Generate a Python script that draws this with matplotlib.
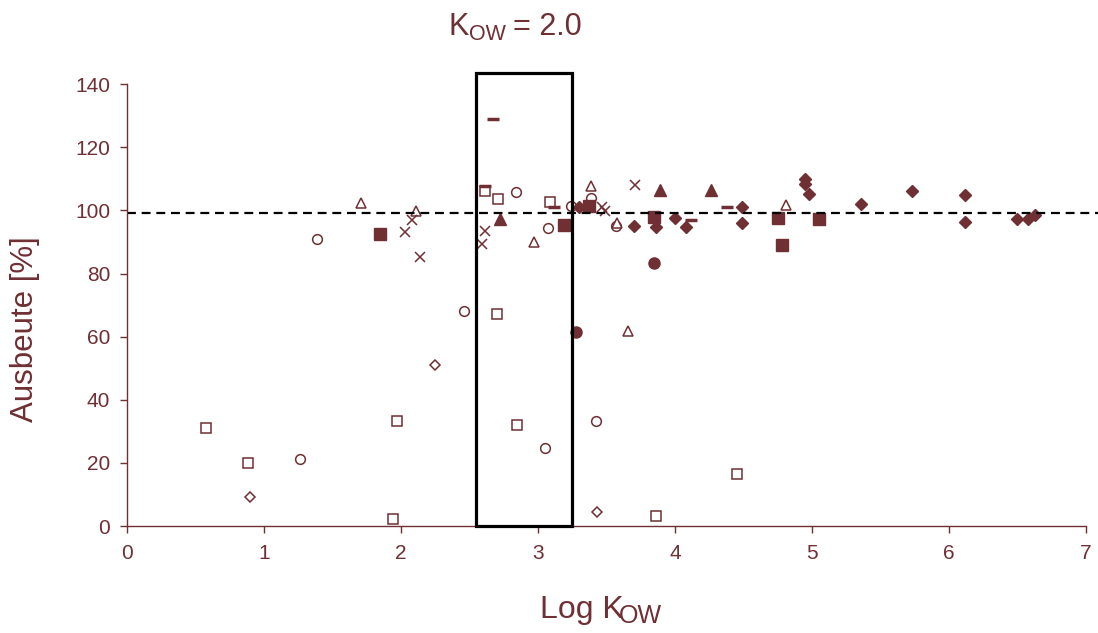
import matplotlib
matplotlib.use('Agg')
import matplotlib.pyplot as plt
from matplotlib.patches import Rectangle

plt.rcParams['font.family'] = ['Liberation Sans', 'DejaVu Sans']

col = '#6f2f33'

# open symbols
sq_open_x = [0.58, 0.88, 1.97, 1.94, 2.70, 2.85, 2.61, 2.71, 3.09, 3.86, 4.45]
sq_open_y = [31.0, 20.0, 33.3, 2.2, 67.2, 31.9, 106.2, 103.5, 102.6, 3.2, 16.6]
ci_open_x = [1.39, 1.26, 2.46, 3.05, 3.42, 2.84, 3.07, 3.24, 3.39, 3.57]
ci_open_y = [91.0, 21.1, 68.1, 24.6, 33.3, 105.7, 94.5, 101.5, 104.0, 95.1]
di_open_x = [0.90, 2.25, 3.43]
di_open_y = [9.2, 51.1, 4.3]
tr_open_x = [1.71, 2.11, 2.97, 3.39, 3.58, 3.66, 4.81]
tr_open_y = [102.5, 99.9, 89.9, 107.7, 96.1, 61.9, 101.7]
cross_x = [2.03, 2.08, 2.14, 2.61, 2.59, 3.47, 3.49, 3.71]
cross_y = [93.2, 96.9, 85.4, 93.5, 89.3, 101.1, 99.8, 107.9]
dash_x = [2.67, 2.61, 3.12, 4.38, 4.12]
dash_y = [129.1, 107.7, 101.0, 101.0, 97.0]

# filled symbols
sq_fill_x = [1.85, 3.19, 3.37, 3.85, 4.75, 4.78, 5.05]
sq_fill_y = [92.6, 95.3, 101.4, 98.0, 97.5, 89.1, 97.2]
ci_fill_x = [3.28, 3.85]
ci_fill_y = [61.4, 83.4]
tr_fill_x = [2.72, 3.89, 4.26]
tr_fill_y = [97.2, 106.4, 106.6]
di_fill_x = [3.30, 3.70, 3.86, 4.00, 4.08, 4.49, 4.49, 4.95, 4.95, 4.98,
             5.36, 5.73, 6.12, 6.12, 6.50, 6.58, 6.63]
di_fill_y = [101.1, 95.1, 94.8, 97.7, 94.8, 101.2, 95.9, 110.1, 108.5, 105.3,
             102.1, 106.2, 104.9, 96.3, 97.2, 97.2, 98.5]

ref_line = 99.3
box_x = [2.55, 3.25]
box_top = 143.5

fig = plt.figure(figsize=(10.98, 6.33), dpi=100)
ax = fig.add_axes([0.1157, 0.169, 0.8733, 0.698])

ow = dict(linestyle='none', markerfacecolor='white', markeredgecolor=col, markeredgewidth=1.1)
ax.plot(sq_open_x, sq_open_y, marker='s', markersize=7, **ow)
ax.plot(ci_open_x, ci_open_y, marker='o', markersize=7, **ow)
ax.plot(di_open_x, di_open_y, marker='D', markersize=5, **ow)
ax.plot(tr_open_x, tr_open_y, marker='^', markersize=7.5, **ow)
ax.plot(cross_x, cross_y, linestyle='none', marker='x', markersize=7, color=col, markeredgewidth=1.1)
ax.plot(dash_x, dash_y, linestyle='none', marker='_', markersize=9, color=col, markeredgewidth=2.5)

fw = dict(linestyle='none', color=col)
ax.plot(sq_fill_x, sq_fill_y, marker='s', markersize=8, **fw)
ax.plot(ci_fill_x, ci_fill_y, marker='o', markersize=8, **fw)
ax.plot(tr_fill_x, tr_fill_y, marker='^', markersize=8.5, **fw)
ax.plot(di_fill_x, di_fill_y, marker='D', markersize=6.5, **fw)

ax.axhline(ref_line, xmin=0, xmax=1.013, color='black', linestyle=(0, (4, 2.6)), linewidth=1.6, clip_on=False)
ax.add_patch(Rectangle((box_x[0], 0), box_x[1] - box_x[0], box_top, fill=False,
                       edgecolor='black', linewidth=2.3, clip_on=False, zorder=5))

ax.set_xlim(0, 7)
ax.set_ylim(0, 140)
ax.set_xticks(range(0, 8))
ax.set_yticks(range(0, 141, 20))
for s in ['top', 'right']:
    ax.spines[s].set_visible(False)
for s in ['left', 'bottom']:
    ax.spines[s].set_color(col)
    ax.spines[s].set_linewidth(1.0)
ax.tick_params(axis='both', colors=col, labelsize=15, length=5, width=1.0, direction='out')
ax.tick_params(axis='y', pad=7)
ax.tick_params(axis='x', pad=8)

# title and axis labels with subscripts
fig.text(448 / 1098, 1 - 35 / 633, 'K', fontsize=22, color=col, ha='left', va='baseline')
fig.text(469 / 1098, 1 - 39.5 / 633, 'OW', fontsize=15.5, color=col, ha='left', va='baseline')
fig.text(513 / 1098, 1 - 35 / 633, '= 2.0', fontsize=22, color=col, ha='left', va='baseline')

fig.text(540 / 1098, 1 - 618 / 633, 'Log K', fontsize=23, color=col, ha='left', va='baseline')
fig.text(619 / 1098, 1 - 623 / 633, 'OW', fontsize=18, color=col, ha='left', va='baseline')

fig.text(25 / 1098, 1 - 329 / 633, 'Ausbeute [%]', fontsize=22.5, color=col,
         rotation=90, ha='center', va='center')

fig.savefig('out.png', dpi=100)
